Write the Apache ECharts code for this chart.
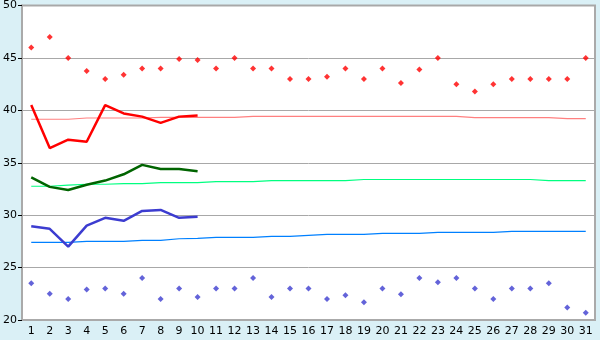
<!DOCTYPE html>
<html><head><meta charset="utf-8">
<script src="https://cdn.jsdelivr.net/npm/echarts@6/dist/echarts.min.js"></script>
<style>html,body{margin:0;padding:0;background:#daf0f6;}#c{width:600px;height:340px;}</style>
</head><body><div id="c"></div>
<script>
const days = ['1','2','3','4','5','6','7','8','9','10','11','12','13','14','15','16','17','18','19','20','21','22','23','24','25','26','27','28','29','30','31'];
const maxPoints = [46,47,45,43.75,43,43.4,44,44,44.9,44.8,44,45,44,44,43,43,43.2,44,43,44,42.6,43.9,45,42.5,41.8,42.5,43,43,43,43,45];
const minPoints = [23.5,22.5,22,22.9,23,22.5,24,22,23,22.2,23,23,24,22.2,23,23,22,22.35,21.7,23,22.45,24,23.6,24,23,22,23,23,23.5,21.2,20.7];
const maxLine = [40.5,36.4,37.2,37.0,40.5,39.7,39.4,38.8,39.4,39.5];
const meanLine = [33.6,32.7,32.4,32.9,33.3,33.9,34.8,34.4,34.4,34.2];
const minLine = [28.95,28.7,27.0,29.0,29.75,29.46,30.4,30.5,29.75,29.84];
const maxNormal = [39.15,39.15,39.15,39.27,39.27,39.27,39.27,39.33,39.33,39.33,39.33,39.33,39.42,39.42,39.42,39.42,39.42,39.42,39.42,39.42,39.42,39.42,39.42,39.42,39.3,39.3,39.3,39.3,39.3,39.2,39.2];
const meanNormal = [32.76,32.76,32.86,32.95,32.95,33.0,33.0,33.1,33.1,33.1,33.2,33.2,33.2,33.3,33.3,33.3,33.3,33.3,33.4,33.4,33.4,33.4,33.4,33.4,33.4,33.4,33.4,33.4,33.3,33.3,33.3];
const minNormal = [27.4,27.4,27.4,27.5,27.5,27.5,27.6,27.6,27.75,27.78,27.88,27.88,27.88,27.97,27.97,28.07,28.16,28.16,28.16,28.26,28.26,28.26,28.35,28.35,28.35,28.35,28.45,28.45,28.45,28.45,28.45];
const yTicks = {min:20, max:50, interval:5};

const chart = echarts.init(document.getElementById('c'), null, {renderer:'canvas'});
const font = {fontFamily:'DejaVu Sans', fontSize:11, color:'#000'};
function line(data, color, width, z){
  return {type:'line', data:data, symbol:'none', smooth:false, z:z,
    lineStyle:{color:color, width:width}, itemStyle:{color:color}, animation:false};
}
function pts(data, color){
  return {type:'scatter', data:data, symbol:'diamond', symbolSize:6, z:10,
    itemStyle:{color:color}, animation:false};
}
chart.setOption({
  animation:false,
  backgroundColor:'#daf0f6',
  grid:{left:20, top:5, width:575, height:315, show:true, backgroundColor:'#fff', borderColor:'#aaa', borderWidth:2},
  xAxis:{type:'category', data:days, boundaryGap:true,
    axisLine:{lineStyle:{color:'#aaa', width:2}},
    axisTick:{alignWithLabel:true, length:5, lineStyle:{color:'#000'}},
    axisLabel:Object.assign({margin:6}, font), splitLine:{show:false}},
  yAxis:{type:'value', min:yTicks.min, max:yTicks.max, interval:yTicks.interval,
    axisLine:{show:true, lineStyle:{color:'#aaa', width:2}},
    axisTick:{show:true, length:4, lineStyle:{color:'#000'}},
    axisLabel:Object.assign({margin:5}, font),
    splitLine:{lineStyle:{color:'#a8a8a8', width:1}}},
  series:[
    line(maxNormal,'#ff8080',1.2,2),
    line(meanNormal,'#00ff80',1.2,2),
    line(minNormal,'#0080ff',1.2,2),
    line(maxLine,'#ff0000',2.5,3),
    line(meanLine,'#006400',2.5,3),
    line(minLine,'#3c3cd0',2.5,3),
    pts(maxPoints,'#ff0000'),
    pts(minPoints,'#3c3cd0')
  ]
});
</script></body></html>
